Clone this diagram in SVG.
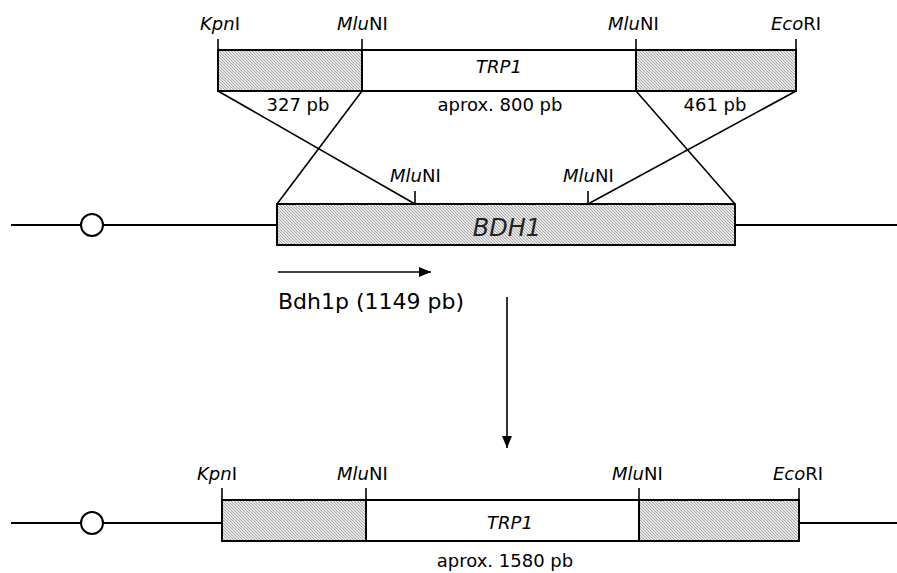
<svg xmlns="http://www.w3.org/2000/svg" width="897" height="573" viewBox="0 0 897 573">
<defs>
<pattern id="hatch" patternUnits="userSpaceOnUse" width="3" height="3">
<rect width="3" height="3" fill="#e6e6e6"/>
<path d="M-1,-1 L4,4 M-1,2 L1,4 M2,-1 L4,1" stroke="#9a9a9a" stroke-width="0.8"/>
</pattern>
<marker id="ah" viewBox="0 0 12 10" refX="12" refY="5" markerWidth="12" markerHeight="10" markerUnits="userSpaceOnUse" orient="auto">
<path d="M0,0 L12,5 L0,10 z" fill="#000"/>
</marker>
</defs>
<style>
.box{stroke:#000;stroke-width:2}
.h{fill:url(#hatch)}
.w{fill:#fff}
.ln{stroke:#000;stroke-width:2;fill:none}
.cn{stroke:#000;stroke-width:1.6;fill:none}
.tk{stroke:#000;stroke-width:1.6}
.t{font-family:"DejaVu Sans",Verdana,sans-serif;font-size:18px;fill:#000}
.i{font-style:italic}
</style>

<g id="top-construct">
<rect class="box h" x="218" y="50" width="144" height="41"/>
<rect class="box w" x="362" y="50" width="274" height="41"/>
<rect class="box h" x="636" y="50" width="160" height="41"/>
<line class="tk" x1="218" y1="39" x2="218" y2="50"/>
<line class="tk" x1="362" y1="39" x2="362" y2="50"/>
<line class="tk" x1="636" y1="39" x2="636" y2="50"/>
<line class="tk" x1="796" y1="39" x2="796" y2="50"/>
<text class="t" x="200" y="30"><tspan class="i">Kpn</tspan>I</text>
<text class="t" x="337" y="30"><tspan class="i">Mlu</tspan>NI</text>
<text class="t" x="608" y="30"><tspan class="i">Mlu</tspan>NI</text>
<text class="t" x="771" y="30"><tspan class="i">Eco</tspan>RI</text>
<text class="t i" x="499" y="73" text-anchor="middle">TRP1</text>
<text class="t" x="298" y="111" text-anchor="middle">327 pb</text>
<text class="t" x="500" y="111" text-anchor="middle">aprox. 800 pb</text>
<text class="t" x="715" y="111" text-anchor="middle">461 pb</text>
</g>

<g id="genome">
<line class="ln" x1="11" y1="225" x2="277" y2="225"/>
<line class="ln" x1="735" y1="225" x2="897" y2="225"/>
<circle class="box w" cx="92" cy="225" r="11"/>
<rect class="box h" x="277" y="204" width="458" height="41"/>
<line class="tk" x1="415" y1="191" x2="415" y2="204"/>
<line class="tk" x1="588" y1="191" x2="588" y2="204"/>
<text class="t" x="390" y="182"><tspan class="i">Mlu</tspan>NI</text>
<text class="t" x="563" y="182"><tspan class="i">Mlu</tspan>NI</text>
<text class="t i" x="507" y="236" text-anchor="middle" style="font-size:24px;fill:#222">BDH1</text>
</g>

<g id="promoter">
<text class="t" x="278" y="309" style="font-size:22px">Bdh1p (1149 pb)</text>
</g>

<g id="result">
<line class="ln" x1="11" y1="523" x2="222" y2="523"/>
<line class="ln" x1="799" y1="523" x2="897" y2="523"/>
<circle class="box w" cx="92" cy="523" r="11"/>
<rect class="box h" x="222" y="500" width="144" height="41"/>
<rect class="box w" x="366" y="500" width="273" height="41"/>
<rect class="box h" x="639" y="500" width="160" height="41"/>
<line class="tk" x1="222" y1="488" x2="222" y2="500"/>
<line class="tk" x1="366" y1="488" x2="366" y2="500"/>
<line class="tk" x1="639" y1="488" x2="639" y2="500"/>
<line class="tk" x1="799" y1="488" x2="799" y2="500"/>
<text class="t" x="197" y="480"><tspan class="i">Kpn</tspan>I</text>
<text class="t" x="337" y="480"><tspan class="i">Mlu</tspan>NI</text>
<text class="t" x="612" y="480"><tspan class="i">Mlu</tspan>NI</text>
<text class="t" x="773" y="480"><tspan class="i">Eco</tspan>RI</text>
<text class="t i" x="510" y="529" text-anchor="middle">TRP1</text>
<text class="t" x="505" y="567" text-anchor="middle">aprox. 1580 pb</text>
</g>

<g id="connectors">
<line class="cn" x1="218" y1="91" x2="415" y2="204"/>
<line class="cn" x1="362" y1="91" x2="277" y2="204"/>
<line class="cn" x1="636" y1="91" x2="735" y2="204"/>
<line class="cn" x1="796" y1="91" x2="588" y2="204"/>
<line class="cn" x1="278" y1="272" x2="431" y2="272" marker-end="url(#ah)"/>
<line class="cn" x1="507" y1="297" x2="507" y2="448" marker-end="url(#ah)"/>
</g>
</svg>
